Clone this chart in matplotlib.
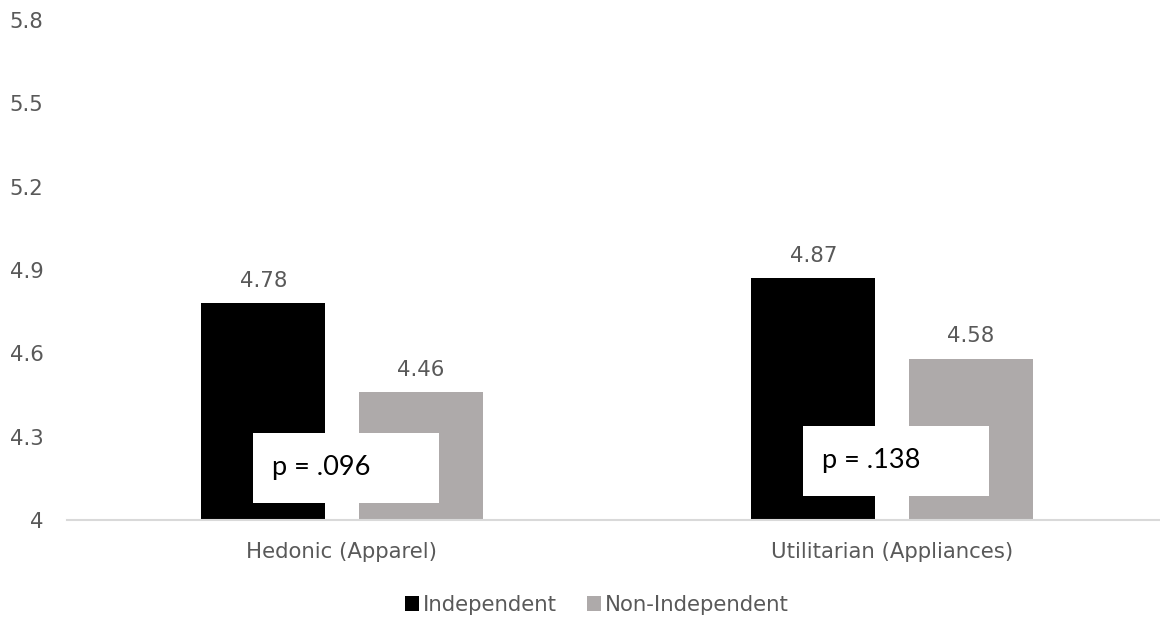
import matplotlib.pyplot as plt
import numpy as np
from matplotlib.patches import Patch

categories = ["Hedonic (Apparel)", "Utilitarian (Appliances)"]
independent = [4.78, 4.87]
non_independent = [4.46, 4.58]
p_labels = ["p = .096", "p = .138"]
p_box_y = [4.06, 4.085]   # bottom of each p-value box (data units)
series_names = ["Independent", "Non-Independent"]

TEXT = "#595959"
BLACK = "#000000"
GRAY = "#AEAAAA"
FS = 15.3

fig = plt.figure(figsize=(11.6, 6.23), dpi=100)
ax = fig.add_axes([67 / 1160, 1 - 520 / 623, 1100 / 1160, 500 / 623])

x = np.arange(len(categories))
w = 0.225
off = 0.143
ax.bar(x - off, np.array(independent) - 4, w, bottom=4, color=BLACK, zorder=2)
ax.bar(x + off, np.array(non_independent) - 4, w, bottom=4, color=GRAY, zorder=2)

for xi, v in zip(x - off, independent):
    ax.text(xi, v + 0.045, f"{v:.2f}", ha="center", va="bottom", color=TEXT, fontsize=FS)
for xi, v in zip(x + off, non_independent):
    ax.text(xi, v + 0.045, f"{v:.2f}", ha="center", va="bottom", color=TEXT, fontsize=FS)

# p-value boxes overlapping the bar pairs
box_w = 186 / 550
box_h = 0.255
for xi, yb, lab in zip(x, p_box_y, p_labels):
    ax.add_patch(plt.Rectangle((xi - 0.161, yb), box_w, box_h, facecolor="white",
                               edgecolor="none", zorder=3))
    ax.text(xi - 0.127, yb + box_h / 2, lab, ha="left", va="center", color="black",
            fontsize=19.5, family="Lato", zorder=4)

ax.set_xlim(-0.5, 1.5)
ax.set_ylim(4, 5.8)
ax.set_yticks([4, 4.3, 4.6, 4.9, 5.2, 5.5, 5.8])
ax.set_yticklabels(["4", "4.3", "4.6", "4.9", "5.2", "5.5", "5.8"])
ax.set_xticks(x)
ax.set_xticklabels(categories)
ax.tick_params(axis="both", length=0, colors=TEXT, labelsize=FS)
ax.tick_params(axis="y", pad=17)
ax.tick_params(axis="x", pad=16)

for s in ["top", "right", "left"]:
    ax.spines[s].set_visible(False)
ax.spines["bottom"].set_color("#D9D9D9")
ax.spines["bottom"].set_linewidth(1.5)

handles = [Patch(facecolor=BLACK), Patch(facecolor=GRAY)]
fig.legend(handles, series_names, loc="center", bbox_to_anchor=(597 / 1160, 1 - 605 / 623),
           ncol=2, frameon=False, fontsize=FS, labelcolor=TEXT, handlelength=0.65,
           handleheight=0.65, handletextpad=0.2, columnspacing=1.4)

fig.savefig("out.png", dpi=100)
